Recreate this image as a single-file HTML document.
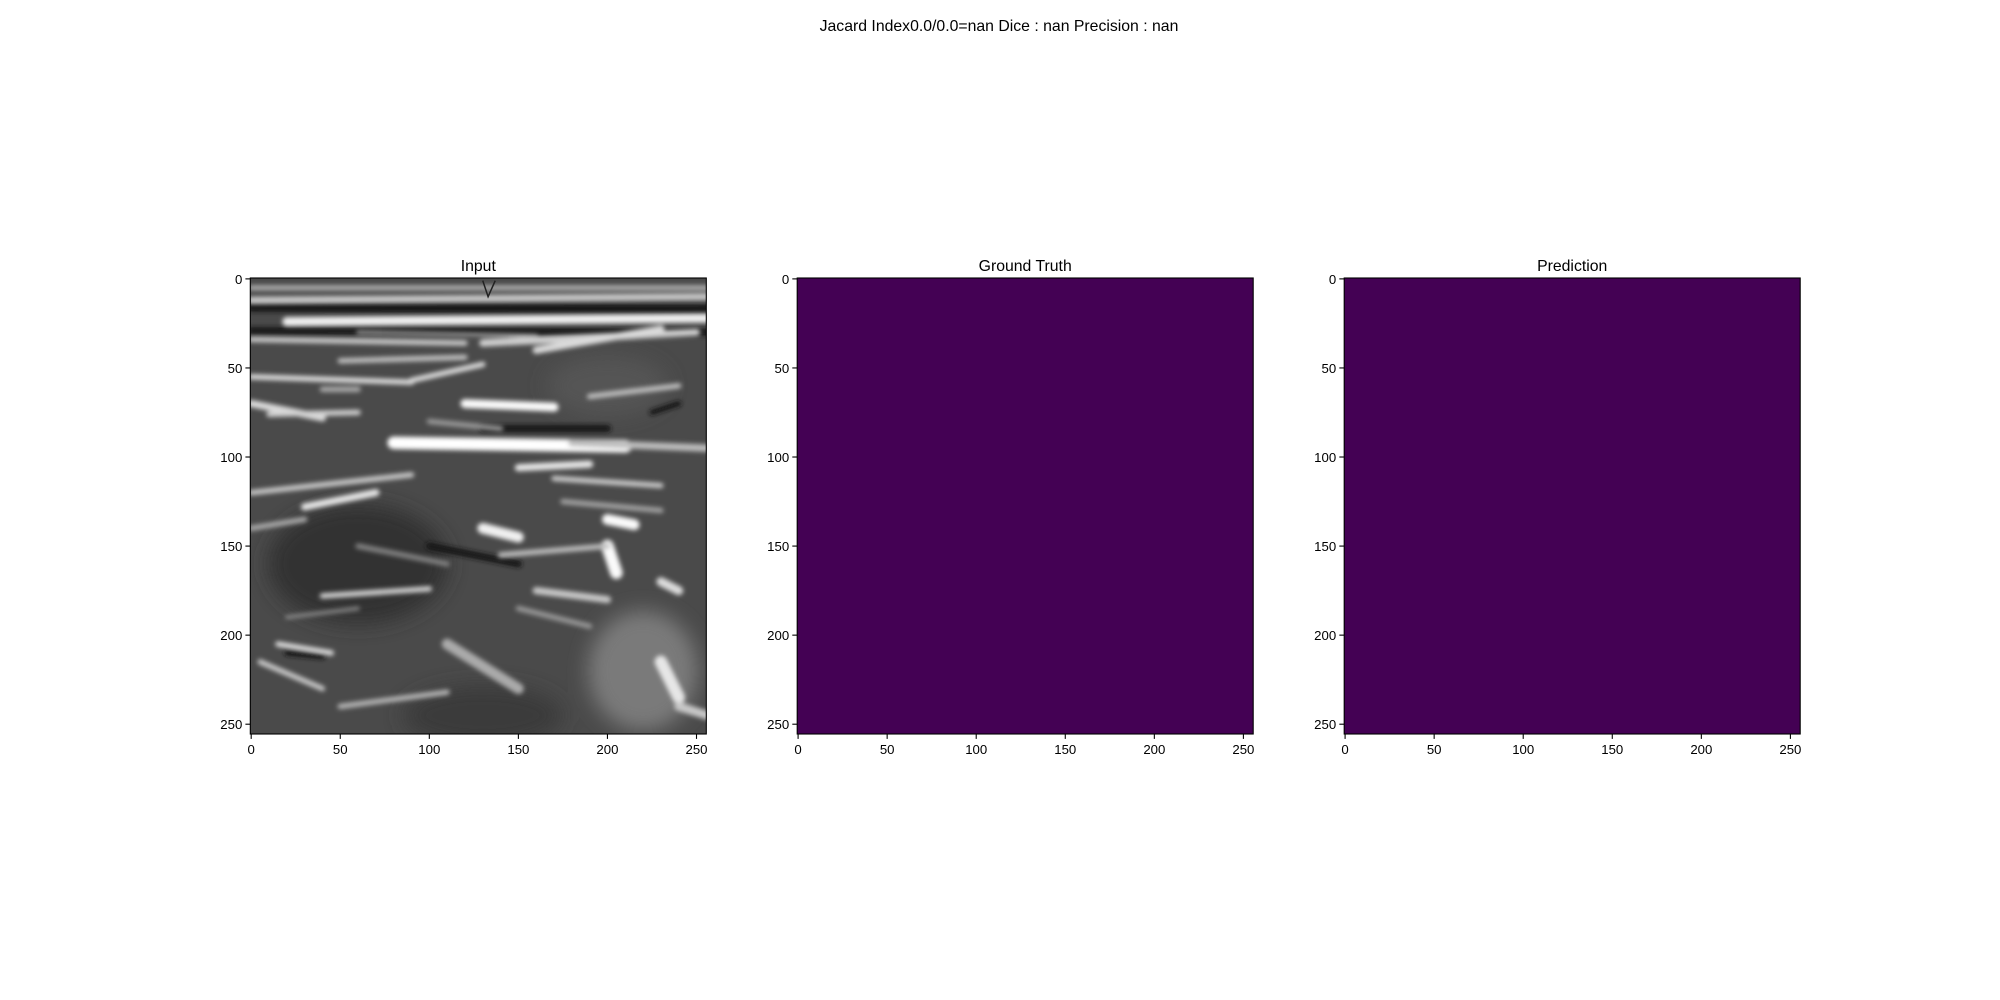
<!DOCTYPE html>
<html><head><meta charset="utf-8"><style>
body{margin:0;background:#fff;width:2000px;height:1000px;overflow:hidden}
svg{display:block}
text{font-family:"Liberation Sans","DejaVu Sans",sans-serif;fill:#000}
</style></head><body>
<svg id="fig" width="2000" height="1000">
<defs>
<filter id="blur" x="-20%" y="-20%" width="140%" height="140%"><feGaussianBlur stdDeviation="2.5"/></filter>
<filter id="blur2"><feGaussianBlur stdDeviation="10"/></filter>
<clipPath id="clipIn"><rect x="250.3" y="278" width="456" height="455.6"/></clipPath>
</defs>
<text x="999" y="31" font-size="15.8" text-anchor="middle">Jacard Index0.0/0.0=nan Dice : nan Precision : nan</text>
<g id="panels"></g>
</svg>
<script>
const panelTitles=["Input","Ground Truth","Prediction"];
const panelLefts=[250.3,797.2,1344.2];
const ticks=[0,50,100,150,200,250];
const extentMin=-0.5, extentMax=255.5;
const axTop=278, size=456;
const NS="http://www.w3.org/2000/svg";
const root=document.getElementById('panels');
function mk(t,a,p){const e=document.createElementNS(NS,t);for(const k in a)e.setAttribute(k,a[k]);(p||root).appendChild(e);return e;}
function sx(L,v){return L+(v-extentMin)/(extentMax-extentMin)*size;}
function sy(v){return axTop+(v-extentMin)/(extentMax-extentMin)*size;}
// streaks for the ultrasound-like input: [x0,y0,x1,y1,width,brightness]
const streaks=[
[0,12,256,10,4,200],[20,24,256,22,5,240],[0,34,120,36,3,200],[130,36,250,30,4,210],
[50,46,120,44,3,190],[160,40,230,28,4,220],[0,55,90,58,3,220],[90,57,130,48,3,220],
[0,70,40,78,4,220],[10,76,60,75,3,210],[40,62,60,62,3,170],[120,70,170,72,5,250],
[190,66,240,60,3,190],[80,92,210,94,7,255],[180,92,256,95,4,190],[150,106,190,104,4,230],
[0,120,90,110,3,200],[30,128,70,120,4,230],[170,112,230,116,3,200],[200,135,215,138,6,250],
[130,140,150,145,6,240],[200,150,205,165,7,250],[140,155,200,150,3,190],[160,175,200,180,4,200],
[40,178,100,174,3,210],[230,170,240,175,5,220],[15,205,45,210,3,220],[5,215,40,230,3,200],
[110,205,150,230,6,170],[230,215,240,235,7,230],[240,240,256,245,5,200],[50,240,110,232,3,180],
[0,5,256,5,3,170],[60,30,160,32,2,160],[100,80,140,84,3,150],[175,125,230,130,3,160],
[0,140,30,135,3,170],[60,150,110,160,3,130],[150,185,190,195,3,150],[20,190,60,185,2,140]
];
const darkBands=[[0,16,256,17,5],[0,29,256,30,4],[130,84,200,84,4],[20,210,40,212,3],[225,75,240,70,3],[100,150,150,160,4]];
panelTitles.forEach((title,i)=>{
  const L=panelLefts[i];
  const g=mk('g',{});
  
  
  const t=mk('text',{x:L+size/2,y:axTop-7,'font-size':15.8,'text-anchor':'middle'},g);
  t.textContent=title;
  
  
  if(i===0){
    const ig=mk('g',{'clip-path':'url(#clipIn)'},g);
    
    
    mk('rect',{x:L,y:axTop,width:size,height:size,fill:'#4a4a4a'},ig);
    const bg=mk('g',{filter:'url(#blur2)'},ig);
    mk('ellipse',{cx:sx(L,60),cy:sy(160),rx:90,ry:60,fill:'#333'},bg);
    mk('ellipse',{cx:sx(L,220),cy:sy(220),rx:55,ry:60,fill:'#7a7a7a'},bg);
    mk('ellipse',{cx:sx(L,130),cy:sy(245),rx:80,ry:30,fill:'#3a3a3a'},bg);
    mk('ellipse',{cx:sx(L,200),cy:sy(60),rx:60,ry:30,fill:'#555'},bg);
    const dg=mk('g',{filter:'url(#blur)','stroke-linecap':'round'},ig);
    darkBands.forEach(s=>{
      mk('line',{x1:sx(L,s[0]),y1:sy(s[1]),x2:sx(L,s[2]),y2:sy(s[3]),stroke:'#151515','stroke-width':s[4]*1.8},dg);
    });
    const sg=mk('g',{filter:'url(#blur)','stroke-linecap':'round'},ig);
    streaks.forEach(s=>{
      const c='rgb('+s[5]+','+s[5]+','+s[5]+')';
      mk('line',{x1:sx(L,s[0]),y1:sy(s[1]),x2:sx(L,s[2]),y2:sy(s[3]),stroke:c,'stroke-width':s[4]*1.8},sg);
    });
    mk('path',{d:`M${sx(L,130)} ${sy(1)} L${sx(L,133)} ${sy(10)} L${sx(L,137)} ${sy(1)}`,fill:'none',stroke:'#222','stroke-width':1.5},ig);
  } else {
    const r=mk('rect',{x:L,y:axTop,width:size,height:size,fill:'#440154'},g);
    
    
  }
  mk('rect',{x:L,y:axTop,width:size,height:size,fill:'none',stroke:'#000','stroke-width':1.1},g);
  ticks.forEach(v=>{
    const x=sx(L,v), y=sy(v);
    mk('line',{x1:x,y1:axTop+size,x2:x,y2:axTop+size+4.9,stroke:'#000','stroke-width':1.1},g);
    const tx=mk('text',{x:x,y:axTop+size+20,'font-size':13.2,'text-anchor':'middle'},g);
    tx.textContent=v;
    
    
    mk('line',{x1:L,y1:y,x2:L-4.9,y2:y,stroke:'#000','stroke-width':1.1},g);
    const ty=mk('text',{x:L-8,y:y+5,'font-size':13.2,'text-anchor':'end'},g);
    ty.textContent=v;
    
    
  });
});
</script>
</body></html>
